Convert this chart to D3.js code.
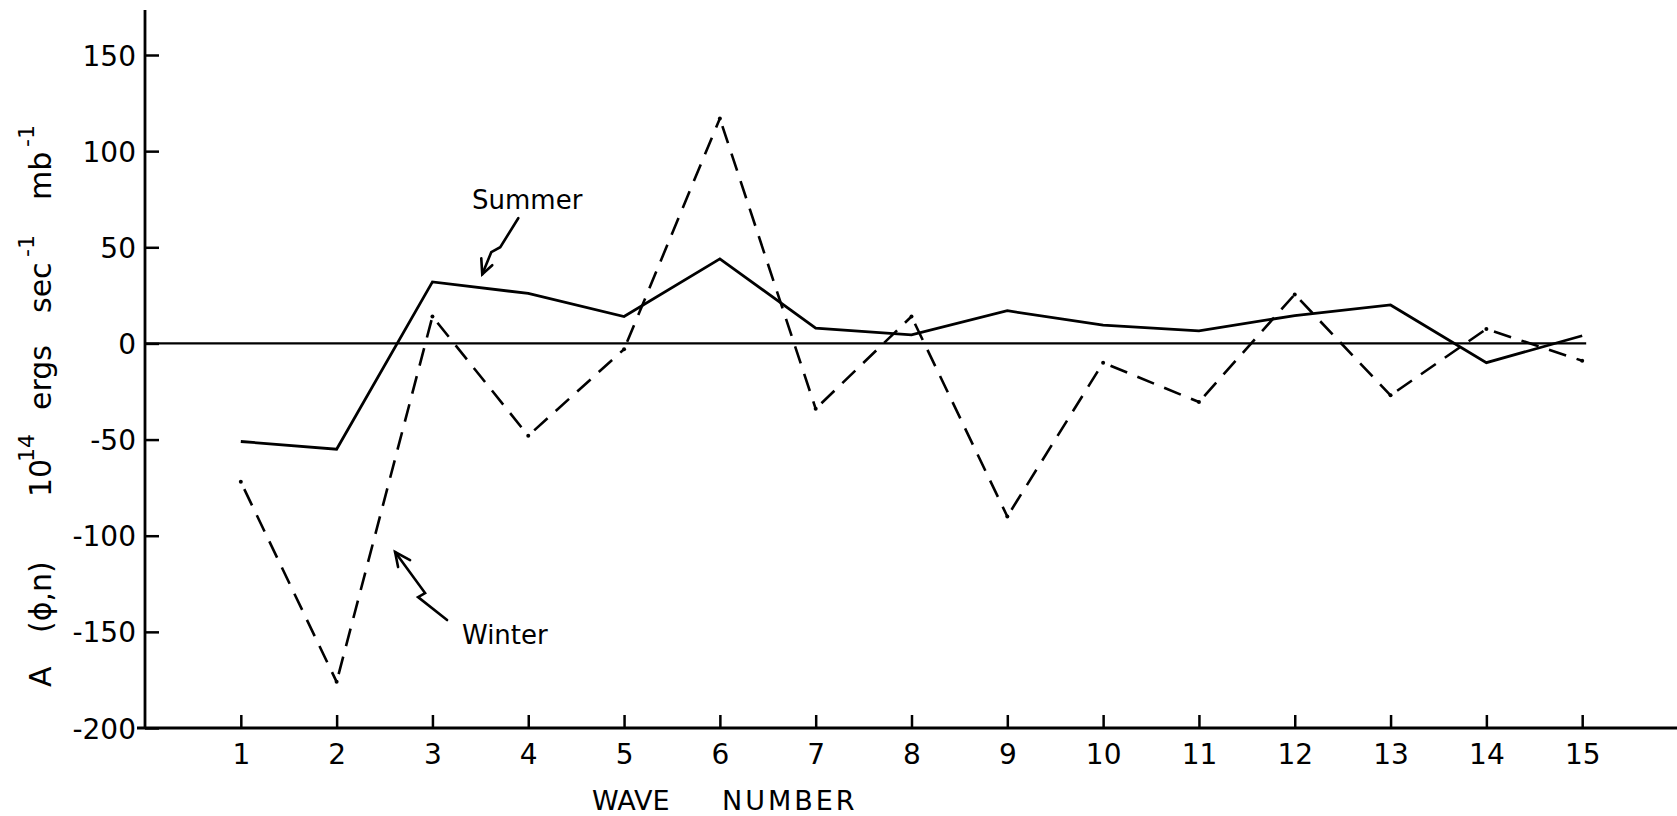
<!DOCTYPE html>
<html>
<head>
<meta charset="utf-8">
<script src="https://cdn.jsdelivr.net/npm/d3@7"></script>
<style>
  body { margin: 0; background: #fff; }
  text { font-family: "DejaVu Sans", "Liberation Sans", sans-serif; fill: #000; }
</style>
</head>
<body>
<script>
// Dados
const waveNumbers = [1, 2, 3, 4, 5, 6, 7, 8, 9, 10, 11, 12, 13, 14, 15];
const summer = [-51, -55, 32, 26, 14, 44, 8, 4.5, 17, 9.5, 6.5, 14.5, 20, -10, 4];
const winter = [-72, -176, 14, -48, -3, 117, -34, 14, -90, -10, -30.5, 25.5, -27, 7.5, -9];
const yTicks = [-200, -150, -100, -50, 0, 50, 100, 150];

const W = 1677, H = 816;
const x = d3.scaleLinear().domain([0, 16]).range([145, 1678]);
const y = d3.scaleLinear().domain([-200, 150]).range([728, 55]);

const svg = d3.select("body").append("svg")
  .attr("width", W)
  .attr("height", H);

// Eixo Y (ticks para dentro, rotulos a esquerda)
const yAxis = svg.append("g")
  .attr("transform", "translate(" + x(0) + ",0)")
  .call(d3.axisLeft(y).tickValues(yTicks).tickSizeInner(-14).tickSizeOuter(0).tickPadding(9)
    .tickFormat(d => d < 0 ? "-" + Math.abs(d) : d));
yAxis.select(".domain").remove();
yAxis.selectAll(".tick line").attr("stroke", "#000").attr("stroke-width", 2.5);
yAxis.selectAll(".tick text").style("font-size", "28px").attr("dy", "0.36em");

svg.append("line")
  .attr("x1", x(0)).attr("x2", x(0))
  .attr("y1", 10).attr("y2", y(-200))
  .attr("stroke", "#000").attr("stroke-width", 2.8);

// Eixo X (ticks para cima)
const xAxis = svg.append("g")
  .attr("transform", "translate(0," + y(-200) + ")")
  .call(d3.axisBottom(x).tickValues(waveNumbers).tickSizeInner(-13).tickSizeOuter(0).tickPadding(16));
xAxis.select(".domain").remove();
xAxis.selectAll(".tick line").attr("stroke", "#000").attr("stroke-width", 2.5);
xAxis.selectAll(".tick text").style("font-size", "28px").attr("dy", "0.71em");

svg.append("line")
  .attr("x1", 137).attr("x2", W)
  .attr("y1", y(-200)).attr("y2", y(-200))
  .attr("stroke", "#000").attr("stroke-width", 2.8);

// Linha do zero
svg.append("line")
  .attr("x1", x(0)).attr("x2", x(15) + 4)
  .attr("y1", y(0)).attr("y2", y(0))
  .attr("stroke", "#000").attr("stroke-width", 2.2);

// Verao: linha continua
const line = d3.line().x(d => x(d[0])).y(d => y(d[1]));
svg.append("path")
  .datum(d3.zip(waveNumbers, summer))
  .attr("d", line)
  .attr("fill", "none")
  .attr("stroke", "#000")
  .attr("stroke-width", 2.8)
  .attr("stroke-linejoin", "miter");

// Inverno: tracejado por segmento, com ponto em cada vertice
const winterPts = d3.zip(waveNumbers, winter);
svg.append("g").selectAll("line")
  .data(d3.pairs(winterPts))
  .enter().append("line")
  .attr("x1", d => x(d[0][0])).attr("y1", d => y(d[0][1]))
  .attr("x2", d => x(d[1][0])).attr("y2", d => y(d[1][1]))
  .attr("stroke", "#000")
  .attr("stroke-width", 2.6)
  .attr("stroke-dasharray", "18 11")
  .attr("stroke-dashoffset", -8);

svg.append("g").selectAll("circle")
  .data(winterPts)
  .enter().append("circle")
  .attr("cx", d => x(d[0]))
  .attr("cy", d => y(d[1]))
  .attr("r", 2);

// Titulo do eixo X
svg.append("text")
  .attr("x", 592).attr("y", 810)
  .style("font-size", "27px")
  .text("WAVE");
svg.append("text")
  .attr("x", 722).attr("y", 810)
  .style("font-size", "27px")
  .style("letter-spacing", "3px")
  .text("NUMBER");

// Titulo do eixo Y (rotacionado, com expoentes)
const yParts = [
  {t: "A", pos: 687},
  {t: "(\u03D5,n)", pos: 633},
  {t: "10", pos: 497},
  {t: "14", pos: 462, sup: true},
  {t: "ergs", pos: 410},
  {t: "sec", pos: 313},
  {t: "-1", pos: 257, sup: true},
  {t: "mb", pos: 200},
  {t: "-1", pos: 147, sup: true}
];
svg.append("g")
  .attr("transform", "translate(51,0) rotate(-90)")
  .selectAll("text")
  .data(yParts)
  .enter().append("text")
  .attr("x", d => -d.pos)
  .attr("y", d => d.sup ? -17 : 0)
  .style("font-size", d => d.sup ? "22px" : "30px")
  .text(d => d.t);

// Anotacoes com setas
const ann = svg.append("g")
  .attr("fill", "none")
  .attr("stroke", "#000")
  .attr("stroke-width", 2.6)
  .attr("stroke-linecap", "round");

svg.append("text")
  .attr("x", 472).attr("y", 209)
  .style("font-size", "26px")
  .text("Summer");

const sTip = [x(3.52), y(36)];
ann.append("path")
  .attr("d", "M" + (sTip[0] + 36) + "," + (sTip[1] - 56)
    + "L" + (sTip[0] + 18) + "," + (sTip[1] - 27)
    + "L" + (sTip[0] + 9) + "," + (sTip[1] - 22)
    + "L" + sTip[0] + "," + sTip[1]);
ann.append("path")
  .attr("d", "M" + (sTip[0] - 1) + "," + (sTip[1] - 16)
    + "L" + sTip[0] + "," + sTip[1]
    + "L" + (sTip[0] + 10) + "," + (sTip[1] - 9));

svg.append("text")
  .attr("x", 462).attr("y", 644)
  .style("font-size", "26px")
  .text("Winter");

const wTip = [x(2.61), y(-108.5)];
ann.append("path")
  .attr("d", "M" + (wTip[0] + 52) + "," + (wTip[1] + 68)
    + "L" + (wTip[0] + 23) + "," + (wTip[1] + 45)
    + "L" + (wTip[0] + 30) + "," + (wTip[1] + 41)
    + "L" + wTip[0] + "," + wTip[1]);
ann.append("path")
  .attr("d", "M" + (wTip[0] + 15) + "," + (wTip[1] + 8)
    + "L" + wTip[0] + "," + wTip[1]
    + "L" + (wTip[0] + 3) + "," + (wTip[1] + 15));
</script>
</body>
</html>
